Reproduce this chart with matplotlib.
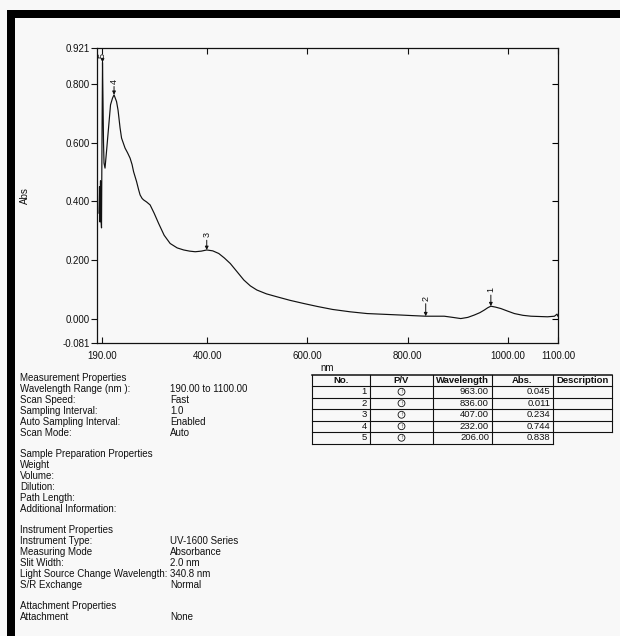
import numpy as np
import matplotlib as mpl
import matplotlib.pyplot as plt
from matplotlib.patches import Rectangle

mpl.use("Agg")

# spectrum (nm, Abs)
wavelength = [184, 185, 186, 187, 188, 189, 190, 191, 192, 193, 194, 196, 199,
              203, 207, 211, 214, 219, 222, 226, 229, 236, 241, 246, 250, 253,
              256, 259, 263, 266, 270, 273, 279, 286, 294, 303, 314, 326, 340,
              353, 365, 376, 388, 399, 411, 423, 434, 446, 460, 473, 486, 499,
              518, 539, 565, 593, 620, 650, 685, 719, 786, 810, 836, 873, 890,
              906, 920, 933, 944, 953, 960, 966, 975, 986, 1000, 1013, 1030,
              1046, 1079, 1093, 1098, 1100]
absorbance = [0.36, 0.45, 0.33, 0.47, 0.34, 0.31, 0.62, 0.872, 0.74, 0.60, 0.53,
              0.513, 0.57, 0.649, 0.728, 0.751, 0.762, 0.739, 0.71, 0.650,
              0.615, 0.581, 0.565, 0.547, 0.525, 0.501, 0.484, 0.467, 0.44,
              0.422, 0.41, 0.405, 0.398, 0.388, 0.36, 0.325, 0.285, 0.257,
              0.242, 0.235, 0.231, 0.229, 0.231, 0.235, 0.232, 0.223, 0.208,
              0.189, 0.160, 0.133, 0.113, 0.099, 0.086, 0.076, 0.064, 0.053,
              0.043, 0.033, 0.025, 0.019, 0.014, 0.012, 0.010, 0.010, 0.006,
              0.002, 0.006, 0.014, 0.022, 0.031, 0.039, 0.044, 0.041, 0.036,
              0.027, 0.019, 0.013, 0.010, 0.008, 0.010, 0.017, 0.010]

# peak markers where they sit on the printed curve
peak_labels = ["1", "2", "3", "4", "5"]
peak_nm = [966, 836, 399, 214, 191]

# peak table as printed
table_no = [1, 2, 3, 4, 5]
table_wl = [963.00, 836.00, 407.00, 232.00, 206.00]
table_abs = [0.045, 0.011, 0.234, 0.744, 0.838]
table_header = ["No.", "P/V", "Wavelength", "Abs.", "Description"]

x_ticks = [190, 400, 600, 800, 1000, 1100]
y_ticks = [-0.081, 0.0, 0.2, 0.4, 0.6, 0.8, 0.921]

measurement = [("Wavelength Range (nm ):", "190.00 to 1100.00"),
               ("Scan Speed:", "Fast"),
               ("Sampling Interval:", "1.0"),
               ("Auto Sampling Interval:", "Enabled"),
               ("Scan Mode:", "Auto")]
sample_prep = ["Weight", "Volume:", "Dilution:", "Path Length:",
               "Additional Information:"]
instrument = [("Instrument Type:", "UV-1600 Series"),
              ("Measuring Mode", "Absorbance"),
              ("Slit Width:", "2.0 nm"),
              ("Light Source Change Wavelength:", "340.8 nm"),
              ("S/R Exchange", "Normal")]

plt.rcParams["font.family"] = ["Liberation Sans", "DejaVu Sans"]
paper = "#f8f8f8"
ink = "#111111"

fig = plt.figure(figsize=(6.2, 6.36), dpi=100, facecolor=paper)

# page layer in pixel coordinates
bg = fig.add_axes([0, 0, 1, 1], zorder=0)
bg.set_xlim(0, 620)
bg.set_ylim(636, 0)
bg.axis("off")
bg.add_patch(Rectangle((7, 10), 613, 8, color="black", lw=0))
bg.add_patch(Rectangle((7, 10), 8, 626, color="black", lw=0))

fs = 7
x1, x2 = 20, 170
y = 378
bg.text(x1, y, "Measurement Properties", fontsize=fs, va="center", color=ink)
for k, v in measurement:
    y += 11
    bg.text(x1, y, k, fontsize=fs, va="center", color=ink)
    bg.text(x2, y, v, fontsize=fs, va="center", color=ink)
y = 454
bg.text(x1, y, "Sample Preparation Properties", fontsize=fs, va="center", color=ink)
for k in sample_prep:
    y += 11
    bg.text(x1, y, k, fontsize=fs, va="center", color=ink)
y = 530
bg.text(x1, y, "Instrument Properties", fontsize=fs, va="center", color=ink)
for k, v in instrument:
    y += 11
    bg.text(x1, y, k, fontsize=fs, va="center", color=ink)
    bg.text(x2, y, v, fontsize=fs, va="center", color=ink)
bg.text(x1, 606, "Attachment Properties", fontsize=fs, va="center", color=ink)
bg.text(x1, 617, "Attachment", fontsize=fs, va="center", color=ink)
bg.text(x2, 617, "None", fontsize=fs, va="center", color=ink)

# peak table
cols = [312, 370, 433, 492, 553, 612]
rows = [375, 386, 397.5, 409, 420.5, 432, 443.5]
lw = 0.8
bg.plot([cols[0], cols[-1]], [rows[0], rows[0]], color=ink, lw=1.1)
for r in rows[1:-1]:
    bg.plot([cols[0], cols[-1]], [r, r], color=ink, lw=lw)
bg.plot([cols[0], cols[4]], [rows[-1], rows[-1]], color=ink, lw=lw)
for c in cols[:5]:
    bg.plot([c, c], [rows[0], rows[-1]], color=ink, lw=lw)
bg.plot([cols[5], cols[5]], [rows[0], rows[-2]], color=ink, lw=lw)
for i, h in enumerate(table_header):
    bg.text((cols[i] + cols[i + 1]) / 2, (rows[0] + rows[1]) / 2, h,
            fontsize=6.8, fontweight="bold", ha="center", va="center", color=ink)
for i in range(len(table_no)):
    yc = (rows[i + 1] + rows[i + 2]) / 2
    bg.text(cols[1] - 3, yc, str(table_no[i]), fontsize=6.8, ha="right",
            va="center", color=ink)
    bg.text((cols[1] + cols[2]) / 2, yc, "\u2191", fontsize=4.5, ha="center",
            va="center", color=ink,
            bbox=dict(boxstyle="circle,pad=0.15", fc="none", ec=ink, lw=0.6))
    bg.text(cols[3] - 3, yc, f"{table_wl[i]:.2f}", fontsize=6.8, ha="right",
            va="center", color=ink)
    bg.text(cols[4] - 3, yc, f"{table_abs[i]:.3f}", fontsize=6.8, ha="right",
            va="center", color=ink)

# spectrum axes
ax = fig.add_axes([97 / 620, 1 - 343 / 636, 461 / 620, 295 / 636], zorder=1)
ax.set_facecolor("none")
ax.plot(wavelength, absorbance, color=ink, lw=0.85)
ax.set_xlim(180, 1100)
ax.set_ylim(-0.081, 0.921)

ax.set_xticks(x_ticks)
ax.set_xticklabels([f"{t:.2f}" for t in x_ticks])
ax.set_yticks(y_ticks)
ax.set_yticklabels([f"{t:.3f}" for t in y_ticks])
ax.tick_params(axis="x", direction="in", top=True, length=4, width=0.8,
               labelsize=7, pad=6, colors=ink)
ax.tick_params(axis="y", direction="out", length=4, width=0.8, labelsize=7,
               pad=1, colors=ink)
sec = ax.secondary_yaxis("right")
sec.set_yticks(y_ticks[1:-1])
sec.tick_params(direction="in", length=4, width=0.8, labelright=False)
sec.spines["right"].set_visible(False)
for s in ax.spines.values():
    s.set_linewidth(0.9)
    s.set_color(ink)

ax.set_xlabel("nm", fontsize=7, color=ink)
ax.xaxis.set_label_coords(0.5, -0.068)
ax.set_ylabel("Abs", fontsize=7, color=ink)
ax.yaxis.set_label_coords(-0.145, 0.5)

peak_abs = np.interp(peak_nm, wavelength, absorbance)
gaps = [10, 11, 9, 8, 3]
for lab, px, py, g in zip(peak_labels, peak_nm, peak_abs, gaps):
    ax.annotate(lab, xy=(px, py), xytext=(0, g), textcoords="offset points",
                rotation=90, ha="center", va="bottom", fontsize=6.5, color=ink,
                arrowprops=dict(arrowstyle="-|>", color=ink, lw=0.7,
                                mutation_scale=5, shrinkA=0, shrinkB=0))

fig.savefig("out.png", dpi=100, facecolor=paper)
